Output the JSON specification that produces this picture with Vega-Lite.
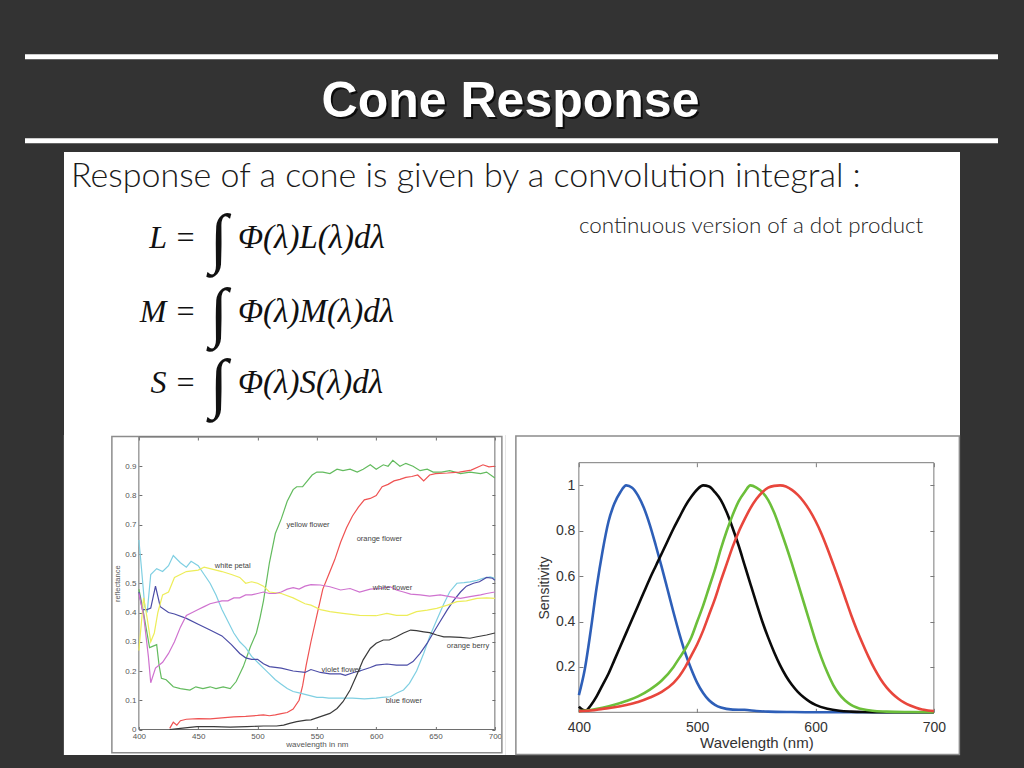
{
"$schema": "https://vega.github.io/schema/vega-lite/v6.json",
"background": "#333333",
"padding": {"left": 0, "top": 0, "right": 0, "bottom": 13},
"config": {"view": {"stroke": null}, "axis": {"grid": false}, "font": "Liberation Sans"},
"data": {"values": [{}]},
"spacing": 0,
"center": true,
"datasets": {
"refl": [
{"s":"yellow flower","wl":400,"v":0.48},{"s":"yellow flower","wl":403,"v":0.42},{"s":"yellow flower","wl":406,"v":0.35},{"s":"yellow flower","wl":409,"v":0.28},{"s":"yellow flower","wl":412,"v":0.285},{"s":"yellow flower","wl":415,"v":0.29},{"s":"yellow flower","wl":417,"v":0.22},{"s":"yellow flower","wl":419,"v":0.175},{"s":"yellow flower","wl":423,"v":0.17},{"s":"yellow flower","wl":429,"v":0.146},{"s":"yellow flower","wl":435,"v":0.14},{"s":"yellow flower","wl":443,"v":0.135},{"s":"yellow flower","wl":448,"v":0.146},{"s":"yellow flower","wl":454,"v":0.14},{"s":"yellow flower","wl":460,"v":0.146},{"s":"yellow flower","wl":465,"v":0.14},{"s":"yellow flower","wl":471,"v":0.146},{"s":"yellow flower","wl":477,"v":0.14},{"s":"yellow flower","wl":482,"v":0.164},{"s":"yellow flower","wl":488,"v":0.215},{"s":"yellow flower","wl":494,"v":0.283},{"s":"yellow flower","wl":499,"v":0.33},{"s":"yellow flower","wl":502,"v":0.38},{"s":"yellow flower","wl":505,"v":0.44},{"s":"yellow flower","wl":510,"v":0.57},{"s":"yellow flower","wl":515,"v":0.67},{"s":"yellow flower","wl":520,"v":0.72},{"s":"yellow flower","wl":525,"v":0.78},{"s":"yellow flower","wl":530,"v":0.82},{"s":"yellow flower","wl":533,"v":0.83},{"s":"yellow flower","wl":538,"v":0.83},{"s":"yellow flower","wl":542,"v":0.85},{"s":"yellow flower","wl":546,"v":0.87},{"s":"yellow flower","wl":550,"v":0.88},{"s":"yellow flower","wl":555,"v":0.88},{"s":"yellow flower","wl":561,"v":0.875},{"s":"yellow flower","wl":567,"v":0.89},{"s":"yellow flower","wl":572,"v":0.885},{"s":"yellow flower","wl":578,"v":0.89},{"s":"yellow flower","wl":584,"v":0.88},{"s":"yellow flower","wl":589,"v":0.89},{"s":"yellow flower","wl":595,"v":0.905},{"s":"yellow flower","wl":600,"v":0.89},{"s":"yellow flower","wl":606,"v":0.905},{"s":"yellow flower","wl":610,"v":0.9},{"s":"yellow flower","wl":614,"v":0.92},{"s":"yellow flower","wl":620,"v":0.9},{"s":"yellow flower","wl":625,"v":0.91},{"s":"yellow flower","wl":631,"v":0.9},{"s":"yellow flower","wl":637,"v":0.885},{"s":"yellow flower","wl":643,"v":0.89},{"s":"yellow flower","wl":648,"v":0.88},{"s":"yellow flower","wl":655,"v":0.88},{"s":"yellow flower","wl":662,"v":0.885},{"s":"yellow flower","wl":671,"v":0.875},{"s":"yellow flower","wl":679,"v":0.88},{"s":"yellow flower","wl":688,"v":0.875},{"s":"yellow flower","wl":693,"v":0.88},{"s":"yellow flower","wl":700,"v":0.86},
{"s":"orange flower","wl":426,"v":0.004},{"s":"orange flower","wl":429,"v":0.025},{"s":"orange flower","wl":432,"v":0.015},{"s":"orange flower","wl":435,"v":0.03},{"s":"orange flower","wl":440,"v":0.035},{"s":"orange flower","wl":450,"v":0.037},{"s":"orange flower","wl":460,"v":0.036},{"s":"orange flower","wl":470,"v":0.04},{"s":"orange flower","wl":480,"v":0.043},{"s":"orange flower","wl":490,"v":0.045},{"s":"orange flower","wl":500,"v":0.048},{"s":"orange flower","wl":505,"v":0.05},{"s":"orange flower","wl":510,"v":0.047},{"s":"orange flower","wl":515,"v":0.05},{"s":"orange flower","wl":520,"v":0.054},{"s":"orange flower","wl":525,"v":0.058},{"s":"orange flower","wl":530,"v":0.07},{"s":"orange flower","wl":535,"v":0.1},{"s":"orange flower","wl":538,"v":0.15},{"s":"orange flower","wl":541,"v":0.22},{"s":"orange flower","wl":545,"v":0.3},{"s":"orange flower","wl":550,"v":0.39},{"s":"orange flower","wl":555,"v":0.48},{"s":"orange flower","wl":560,"v":0.53},{"s":"orange flower","wl":565,"v":0.58},{"s":"orange flower","wl":570,"v":0.64},{"s":"orange flower","wl":575,"v":0.69},{"s":"orange flower","wl":580,"v":0.73},{"s":"orange flower","wl":585,"v":0.76},{"s":"orange flower","wl":590,"v":0.785},{"s":"orange flower","wl":595,"v":0.79},{"s":"orange flower","wl":600,"v":0.8},{"s":"orange flower","wl":605,"v":0.83},{"s":"orange flower","wl":610,"v":0.838},{"s":"orange flower","wl":615,"v":0.85},{"s":"orange flower","wl":620,"v":0.855},{"s":"orange flower","wl":625,"v":0.862},{"s":"orange flower","wl":630,"v":0.865},{"s":"orange flower","wl":635,"v":0.87},{"s":"orange flower","wl":640,"v":0.85},{"s":"orange flower","wl":645,"v":0.87},{"s":"orange flower","wl":650,"v":0.875},{"s":"orange flower","wl":660,"v":0.877},{"s":"orange flower","wl":670,"v":0.88},{"s":"orange flower","wl":680,"v":0.887},{"s":"orange flower","wl":690,"v":0.905},{"s":"orange flower","wl":695,"v":0.898},{"s":"orange flower","wl":700,"v":0.9},
{"s":"blue flower","wl":400,"v":0.648},{"s":"blue flower","wl":402,"v":0.56},{"s":"blue flower","wl":405,"v":0.42},{"s":"blue flower","wl":407,"v":0.4},{"s":"blue flower","wl":410,"v":0.53},{"s":"blue flower","wl":415,"v":0.55},{"s":"blue flower","wl":420,"v":0.54},{"s":"blue flower","wl":425,"v":0.56},{"s":"blue flower","wl":429,"v":0.595},{"s":"blue flower","wl":435,"v":0.57},{"s":"blue flower","wl":440,"v":0.555},{"s":"blue flower","wl":444,"v":0.575},{"s":"blue flower","wl":450,"v":0.56},{"s":"blue flower","wl":455,"v":0.53},{"s":"blue flower","wl":460,"v":0.5},{"s":"blue flower","wl":465,"v":0.46},{"s":"blue flower","wl":470,"v":0.41},{"s":"blue flower","wl":475,"v":0.37},{"s":"blue flower","wl":480,"v":0.33},{"s":"blue flower","wl":485,"v":0.3},{"s":"blue flower","wl":490,"v":0.28},{"s":"blue flower","wl":495,"v":0.25},{"s":"blue flower","wl":500,"v":0.23},{"s":"blue flower","wl":505,"v":0.21},{"s":"blue flower","wl":510,"v":0.19},{"s":"blue flower","wl":515,"v":0.17},{"s":"blue flower","wl":520,"v":0.155},{"s":"blue flower","wl":525,"v":0.14},{"s":"blue flower","wl":530,"v":0.13},{"s":"blue flower","wl":535,"v":0.125},{"s":"blue flower","wl":540,"v":0.12},{"s":"blue flower","wl":545,"v":0.115},{"s":"blue flower","wl":550,"v":0.11},{"s":"blue flower","wl":555,"v":0.11},{"s":"blue flower","wl":560,"v":0.107},{"s":"blue flower","wl":567,"v":0.107},{"s":"blue flower","wl":580,"v":0.107},{"s":"blue flower","wl":590,"v":0.105},{"s":"blue flower","wl":600,"v":0.107},{"s":"blue flower","wl":605,"v":0.11},{"s":"blue flower","wl":612,"v":0.112},{"s":"blue flower","wl":617,"v":0.124},{"s":"blue flower","wl":623,"v":0.135},{"s":"blue flower","wl":628,"v":0.158},{"s":"blue flower","wl":634,"v":0.2},{"s":"blue flower","wl":640,"v":0.26},{"s":"blue flower","wl":645,"v":0.317},{"s":"blue flower","wl":651,"v":0.374},{"s":"blue flower","wl":657,"v":0.43},{"s":"blue flower","wl":662,"v":0.471},{"s":"blue flower","wl":668,"v":0.5},{"s":"blue flower","wl":674,"v":0.502},{"s":"blue flower","wl":679,"v":0.505},{"s":"blue flower","wl":685,"v":0.51},{"s":"blue flower","wl":690,"v":0.517},{"s":"blue flower","wl":696,"v":0.522},{"s":"blue flower","wl":700,"v":0.517},
{"s":"violet flower","wl":400,"v":0.47},{"s":"violet flower","wl":403,"v":0.41},{"s":"violet flower","wl":407,"v":0.41},{"s":"violet flower","wl":410,"v":0.415},{"s":"violet flower","wl":414,"v":0.49},{"s":"violet flower","wl":418,"v":0.42},{"s":"violet flower","wl":425,"v":0.4},{"s":"violet flower","wl":430,"v":0.395},{"s":"violet flower","wl":440,"v":0.38},{"s":"violet flower","wl":450,"v":0.36},{"s":"violet flower","wl":460,"v":0.34},{"s":"violet flower","wl":470,"v":0.32},{"s":"violet flower","wl":478,"v":0.29},{"s":"violet flower","wl":485,"v":0.26},{"s":"violet flower","wl":490,"v":0.245},{"s":"violet flower","wl":495,"v":0.24},{"s":"violet flower","wl":500,"v":0.24},{"s":"violet flower","wl":505,"v":0.225},{"s":"violet flower","wl":510,"v":0.215},{"s":"violet flower","wl":520,"v":0.21},{"s":"violet flower","wl":530,"v":0.2},{"s":"violet flower","wl":540,"v":0.195},{"s":"violet flower","wl":545,"v":0.205},{"s":"violet flower","wl":553,"v":0.195},{"s":"violet flower","wl":561,"v":0.19},{"s":"violet flower","wl":570,"v":0.19},{"s":"violet flower","wl":574,"v":0.185},{"s":"violet flower","wl":581,"v":0.195},{"s":"violet flower","wl":586,"v":0.2},{"s":"violet flower","wl":595,"v":0.212},{"s":"violet flower","wl":600,"v":0.22},{"s":"violet flower","wl":609,"v":0.224},{"s":"violet flower","wl":617,"v":0.22},{"s":"violet flower","wl":626,"v":0.22},{"s":"violet flower","wl":631,"v":0.232},{"s":"violet flower","wl":637,"v":0.26},{"s":"violet flower","wl":643,"v":0.295},{"s":"violet flower","wl":648,"v":0.33},{"s":"violet flower","wl":654,"v":0.37},{"s":"violet flower","wl":660,"v":0.41},{"s":"violet flower","wl":665,"v":0.44},{"s":"violet flower","wl":671,"v":0.47},{"s":"violet flower","wl":676,"v":0.49},{"s":"violet flower","wl":682,"v":0.5},{"s":"violet flower","wl":687,"v":0.505},{"s":"violet flower","wl":693,"v":0.52},{"s":"violet flower","wl":698,"v":0.517},{"s":"violet flower","wl":700,"v":0.51},
{"s":"white petal","wl":400,"v":0.27},{"s":"white petal","wl":402,"v":0.36},{"s":"white petal","wl":404,"v":0.45},{"s":"white petal","wl":407,"v":0.38},{"s":"white petal","wl":410,"v":0.3},{"s":"white petal","wl":413,"v":0.33},{"s":"white petal","wl":416,"v":0.4},{"s":"white petal","wl":420,"v":0.46},{"s":"white petal","wl":425,"v":0.47},{"s":"white petal","wl":430,"v":0.52},{"s":"white petal","wl":435,"v":0.53},{"s":"white petal","wl":440,"v":0.54},{"s":"white petal","wl":450,"v":0.545},{"s":"white petal","wl":455,"v":0.555},{"s":"white petal","wl":460,"v":0.55},{"s":"white petal","wl":465,"v":0.545},{"s":"white petal","wl":470,"v":0.54},{"s":"white petal","wl":478,"v":0.53},{"s":"white petal","wl":485,"v":0.52},{"s":"white petal","wl":490,"v":0.5},{"s":"white petal","wl":495,"v":0.505},{"s":"white petal","wl":500,"v":0.5},{"s":"white petal","wl":505,"v":0.49},{"s":"white petal","wl":510,"v":0.47},{"s":"white petal","wl":520,"v":0.465},{"s":"white petal","wl":530,"v":0.45},{"s":"white petal","wl":540,"v":0.43},{"s":"white petal","wl":545,"v":0.425},{"s":"white petal","wl":553,"v":0.41},{"s":"white petal","wl":561,"v":0.403},{"s":"white petal","wl":572,"v":0.397},{"s":"white petal","wl":586,"v":0.39},{"s":"white petal","wl":600,"v":0.389},{"s":"white petal","wl":609,"v":0.397},{"s":"white petal","wl":617,"v":0.39},{"s":"white petal","wl":626,"v":0.39},{"s":"white petal","wl":634,"v":0.403},{"s":"white petal","wl":643,"v":0.408},{"s":"white petal","wl":651,"v":0.414},{"s":"white petal","wl":660,"v":0.425},{"s":"white petal","wl":668,"v":0.437},{"s":"white petal","wl":676,"v":0.44},{"s":"white petal","wl":685,"v":0.448},{"s":"white petal","wl":693,"v":0.45},{"s":"white petal","wl":700,"v":0.448},
{"s":"white flower","wl":400,"v":0.465},{"s":"white flower","wl":404,"v":0.39},{"s":"white flower","wl":408,"v":0.25},{"s":"white flower","wl":410,"v":0.16},{"s":"white flower","wl":414,"v":0.21},{"s":"white flower","wl":420,"v":0.23},{"s":"white flower","wl":425,"v":0.26},{"s":"white flower","wl":430,"v":0.3},{"s":"white flower","wl":435,"v":0.35},{"s":"white flower","wl":440,"v":0.39},{"s":"white flower","wl":445,"v":0.4},{"s":"white flower","wl":450,"v":0.41},{"s":"white flower","wl":455,"v":0.42},{"s":"white flower","wl":460,"v":0.43},{"s":"white flower","wl":470,"v":0.44},{"s":"white flower","wl":475,"v":0.44},{"s":"white flower","wl":480,"v":0.45},{"s":"white flower","wl":485,"v":0.45},{"s":"white flower","wl":490,"v":0.46},{"s":"white flower","wl":495,"v":0.46},{"s":"white flower","wl":500,"v":0.465},{"s":"white flower","wl":505,"v":0.47},{"s":"white flower","wl":510,"v":0.465},{"s":"white flower","wl":515,"v":0.465},{"s":"white flower","wl":520,"v":0.47},{"s":"white flower","wl":525,"v":0.48},{"s":"white flower","wl":530,"v":0.485},{"s":"white flower","wl":535,"v":0.48},{"s":"white flower","wl":540,"v":0.49},{"s":"white flower","wl":545,"v":0.495},{"s":"white flower","wl":553,"v":0.494},{"s":"white flower","wl":561,"v":0.488},{"s":"white flower","wl":570,"v":0.477},{"s":"white flower","wl":578,"v":0.482},{"s":"white flower","wl":586,"v":0.47},{"s":"white flower","wl":595,"v":0.48},{"s":"white flower","wl":603,"v":0.482},{"s":"white flower","wl":612,"v":0.488},{"s":"white flower","wl":617,"v":0.477},{"s":"white flower","wl":623,"v":0.47},{"s":"white flower","wl":629,"v":0.463},{"s":"white flower","wl":637,"v":0.46},{"s":"white flower","wl":645,"v":0.456},{"s":"white flower","wl":654,"v":0.46},{"s":"white flower","wl":662,"v":0.454},{"s":"white flower","wl":671,"v":0.448},{"s":"white flower","wl":679,"v":0.454},{"s":"white flower","wl":688,"v":0.46},{"s":"white flower","wl":693,"v":0.465},{"s":"white flower","wl":700,"v":0.47},
{"s":"orange berry","wl":426,"v":0},{"s":"orange berry","wl":435,"v":0.004},{"s":"orange berry","wl":449,"v":0.01},{"s":"orange berry","wl":463,"v":0.01},{"s":"orange berry","wl":477,"v":0.008},{"s":"orange berry","wl":491,"v":0.01},{"s":"orange berry","wl":505,"v":0.012},{"s":"orange berry","wl":516,"v":0.012},{"s":"orange berry","wl":522,"v":0.015},{"s":"orange berry","wl":527,"v":0.021},{"s":"orange berry","wl":533,"v":0.027},{"s":"orange berry","wl":541,"v":0.032},{"s":"orange berry","wl":545,"v":0.033},{"s":"orange berry","wl":553,"v":0.044},{"s":"orange berry","wl":561,"v":0.055},{"s":"orange berry","wl":567,"v":0.072},{"s":"orange berry","wl":572,"v":0.095},{"s":"orange berry","wl":578,"v":0.135},{"s":"orange berry","wl":584,"v":0.19},{"s":"orange berry","wl":589,"v":0.238},{"s":"orange berry","wl":595,"v":0.277},{"s":"orange berry","wl":600,"v":0.295},{"s":"orange berry","wl":606,"v":0.306},{"s":"orange berry","wl":611,"v":0.306},{"s":"orange berry","wl":617,"v":0.317},{"s":"orange berry","wl":623,"v":0.33},{"s":"orange berry","wl":629,"v":0.34},{"s":"orange berry","wl":634,"v":0.338},{"s":"orange berry","wl":640,"v":0.334},{"s":"orange berry","wl":645,"v":0.331},{"s":"orange berry","wl":651,"v":0.323},{"s":"orange berry","wl":657,"v":0.317},{"s":"orange berry","wl":662,"v":0.317},{"s":"orange berry","wl":671,"v":0.315},{"s":"orange berry","wl":679,"v":0.312},{"s":"orange berry","wl":685,"v":0.317},{"s":"orange berry","wl":693,"v":0.323},{"s":"orange berry","wl":700,"v":0.33}
],
"reflLabels": [
{"label":"white petal","wl":464,"v":0.56},
{"label":"yellow flower","wl":524.5,"v":0.7},
{"label":"orange flower","wl":583.5,"v":0.65},
{"label":"white flower","wl":597,"v":0.485},
{"label":"orange berry","wl":659.5,"v":0.285},
{"label":"violet flower","wl":554,"v":0.205},
{"label":"blue flower","wl":608,"v":0.096}
],
"cones": [
{"c":"S","wl":400,"v":0.076},{"c":"S","wl":405,"v":0.19},{"c":"S","wl":410,"v":0.36},{"c":"S","wl":415,"v":0.55},{"c":"S","wl":420,"v":0.71},{"c":"S","wl":425,"v":0.84},{"c":"S","wl":430,"v":0.92},{"c":"S","wl":435,"v":0.97},{"c":"S","wl":440,"v":1.0},{"c":"S","wl":445,"v":0.99},{"c":"S","wl":450,"v":0.955},{"c":"S","wl":455,"v":0.9},{"c":"S","wl":460,"v":0.825},{"c":"S","wl":465,"v":0.735},{"c":"S","wl":470,"v":0.64},{"c":"S","wl":475,"v":0.54},{"c":"S","wl":480,"v":0.44},{"c":"S","wl":485,"v":0.345},{"c":"S","wl":490,"v":0.26},{"c":"S","wl":495,"v":0.19},{"c":"S","wl":500,"v":0.13},{"c":"S","wl":505,"v":0.085},{"c":"S","wl":510,"v":0.053},{"c":"S","wl":515,"v":0.033},{"c":"S","wl":520,"v":0.021},{"c":"S","wl":530,"v":0.012},{"c":"S","wl":540,"v":0.011},{"c":"S","wl":550,"v":0.006},{"c":"S","wl":560,"v":0.003},{"c":"S","wl":580,"v":0.001},{"c":"S","wl":600,"v":0},{"c":"S","wl":650,"v":0},{"c":"S","wl":700,"v":0},
{"c":"Rod","wl":400,"v":0.025},{"c":"Rod","wl":403,"v":0.012},{"c":"Rod","wl":406,"v":0.008},{"c":"Rod","wl":410,"v":0.03},{"c":"Rod","wl":415,"v":0.07},{"c":"Rod","wl":420,"v":0.12},{"c":"Rod","wl":425,"v":0.17},{"c":"Rod","wl":430,"v":0.23},{"c":"Rod","wl":435,"v":0.29},{"c":"Rod","wl":440,"v":0.35},{"c":"Rod","wl":445,"v":0.41},{"c":"Rod","wl":450,"v":0.47},{"c":"Rod","wl":455,"v":0.53},{"c":"Rod","wl":460,"v":0.59},{"c":"Rod","wl":465,"v":0.645},{"c":"Rod","wl":470,"v":0.7},{"c":"Rod","wl":475,"v":0.755},{"c":"Rod","wl":480,"v":0.81},{"c":"Rod","wl":485,"v":0.86},{"c":"Rod","wl":490,"v":0.91},{"c":"Rod","wl":495,"v":0.95},{"c":"Rod","wl":500,"v":0.982},{"c":"Rod","wl":505,"v":1.0},{"c":"Rod","wl":510,"v":0.995},{"c":"Rod","wl":515,"v":0.97},{"c":"Rod","wl":520,"v":0.935},{"c":"Rod","wl":525,"v":0.88},{"c":"Rod","wl":530,"v":0.811},{"c":"Rod","wl":535,"v":0.735},{"c":"Rod","wl":540,"v":0.65},{"c":"Rod","wl":545,"v":0.565},{"c":"Rod","wl":550,"v":0.481},{"c":"Rod","wl":555,"v":0.4},{"c":"Rod","wl":560,"v":0.329},{"c":"Rod","wl":565,"v":0.265},{"c":"Rod","wl":570,"v":0.208},{"c":"Rod","wl":575,"v":0.16},{"c":"Rod","wl":580,"v":0.121},{"c":"Rod","wl":585,"v":0.09},{"c":"Rod","wl":590,"v":0.066},{"c":"Rod","wl":595,"v":0.047},{"c":"Rod","wl":600,"v":0.033},{"c":"Rod","wl":610,"v":0.016},{"c":"Rod","wl":620,"v":0.007},{"c":"Rod","wl":630,"v":0.003},{"c":"Rod","wl":640,"v":0.001},{"c":"Rod","wl":660,"v":0},{"c":"Rod","wl":700,"v":0},
{"c":"M","wl":400,"v":0.005},{"c":"M","wl":410,"v":0.01},{"c":"M","wl":420,"v":0.02},{"c":"M","wl":430,"v":0.033},{"c":"M","wl":440,"v":0.05},{"c":"M","wl":450,"v":0.07},{"c":"M","wl":460,"v":0.1},{"c":"M","wl":470,"v":0.14},{"c":"M","wl":480,"v":0.2},{"c":"M","wl":485,"v":0.24},{"c":"M","wl":490,"v":0.28},{"c":"M","wl":495,"v":0.33},{"c":"M","wl":500,"v":0.4},{"c":"M","wl":505,"v":0.47},{"c":"M","wl":510,"v":0.55},{"c":"M","wl":515,"v":0.63},{"c":"M","wl":520,"v":0.72},{"c":"M","wl":525,"v":0.8},{"c":"M","wl":530,"v":0.87},{"c":"M","wl":535,"v":0.93},{"c":"M","wl":540,"v":0.97},{"c":"M","wl":545,"v":1.0},{"c":"M","wl":550,"v":0.99},{"c":"M","wl":555,"v":0.97},{"c":"M","wl":560,"v":0.935},{"c":"M","wl":565,"v":0.88},{"c":"M","wl":570,"v":0.81},{"c":"M","wl":575,"v":0.735},{"c":"M","wl":580,"v":0.655},{"c":"M","wl":585,"v":0.57},{"c":"M","wl":590,"v":0.485},{"c":"M","wl":595,"v":0.4},{"c":"M","wl":600,"v":0.315},{"c":"M","wl":605,"v":0.24},{"c":"M","wl":610,"v":0.175},{"c":"M","wl":615,"v":0.12},{"c":"M","wl":620,"v":0.08},{"c":"M","wl":625,"v":0.052},{"c":"M","wl":630,"v":0.033},{"c":"M","wl":640,"v":0.013},{"c":"M","wl":650,"v":0.006},{"c":"M","wl":660,"v":0.003},{"c":"M","wl":680,"v":0.001},{"c":"M","wl":700,"v":0},
{"c":"L","wl":400,"v":0.005},{"c":"L","wl":410,"v":0.008},{"c":"L","wl":420,"v":0.015},{"c":"L","wl":430,"v":0.022},{"c":"L","wl":440,"v":0.032},{"c":"L","wl":450,"v":0.045},{"c":"L","wl":460,"v":0.065},{"c":"L","wl":470,"v":0.09},{"c":"L","wl":480,"v":0.13},{"c":"L","wl":485,"v":0.16},{"c":"L","wl":490,"v":0.2},{"c":"L","wl":495,"v":0.25},{"c":"L","wl":500,"v":0.3},{"c":"L","wl":505,"v":0.36},{"c":"L","wl":510,"v":0.43},{"c":"L","wl":515,"v":0.5},{"c":"L","wl":520,"v":0.58},{"c":"L","wl":525,"v":0.655},{"c":"L","wl":530,"v":0.73},{"c":"L","wl":535,"v":0.795},{"c":"L","wl":540,"v":0.85},{"c":"L","wl":545,"v":0.9},{"c":"L","wl":550,"v":0.94},{"c":"L","wl":555,"v":0.97},{"c":"L","wl":560,"v":0.99},{"c":"L","wl":565,"v":0.998},{"c":"L","wl":570,"v":1.0},{"c":"L","wl":575,"v":0.995},{"c":"L","wl":580,"v":0.98},{"c":"L","wl":585,"v":0.958},{"c":"L","wl":590,"v":0.928},{"c":"L","wl":595,"v":0.89},{"c":"L","wl":600,"v":0.843},{"c":"L","wl":605,"v":0.787},{"c":"L","wl":610,"v":0.722},{"c":"L","wl":615,"v":0.652},{"c":"L","wl":620,"v":0.58},{"c":"L","wl":625,"v":0.505},{"c":"L","wl":630,"v":0.43},{"c":"L","wl":635,"v":0.362},{"c":"L","wl":640,"v":0.3},{"c":"L","wl":645,"v":0.242},{"c":"L","wl":650,"v":0.19},{"c":"L","wl":655,"v":0.146},{"c":"L","wl":660,"v":0.11},{"c":"L","wl":665,"v":0.082},{"c":"L","wl":670,"v":0.06},{"c":"L","wl":675,"v":0.043},{"c":"L","wl":680,"v":0.03},{"c":"L","wl":685,"v":0.02},{"c":"L","wl":690,"v":0.012},{"c":"L","wl":695,"v":0.008},{"c":"L","wl":700,"v":0.005}
]
},
"resolve": {"scale": {"color": "independent"}},
"vconcat": [
{
"width": 1024, "height": 435,
"layer": [
{"mark": {"type": "rule", "color": "white", "strokeWidth": 5},
 "encoding": {"x": {"datum": 25, "type": "quantitative", "scale": {"domain": [0, 1024], "nice": false, "zero": false}, "axis": null}, "x2": {"datum": 998}, "y": {"datum": 56.7, "type": "quantitative", "scale": {"domain": [0, 435], "nice": false, "zero": false, "reverse": true}, "axis": null}}},
{"mark": {"type": "rule", "color": "white", "strokeWidth": 5},
 "encoding": {"x": {"datum": 25, "type": "quantitative", "axis": null}, "x2": {"datum": 998}, "y": {"datum": 140.8, "type": "quantitative", "axis": null}}},
{"mark": {"type": "text", "text": "Cone Response", "font": "Liberation Sans", "fontWeight": "bold", "fontSize": 50, "color": "#000000", "opacity": 0.75, "align": "center", "baseline": "alphabetic"},
 "encoding": {"x": {"datum": 512.5, "type": "quantitative", "axis": null}, "y": {"datum": 119, "type": "quantitative", "axis": null}}},
{"mark": {"type": "text", "text": "Cone Response", "font": "Liberation Sans", "fontWeight": "bold", "fontSize": 50, "color": "#ffffff", "align": "center", "baseline": "alphabetic"},
 "encoding": {"x": {"datum": 510.5, "type": "quantitative", "axis": null}, "y": {"datum": 116.5, "type": "quantitative", "axis": null}}},
{"mark": {"type": "rect", "color": "white"},
 "encoding": {"x": {"datum": 64, "type": "quantitative", "axis": null}, "x2": {"datum": 960}, "y": {"datum": 152, "type": "quantitative", "axis": null}, "y2": {"datum": 435}}},
{"mark": {"type": "text", "text": "Response of a cone is given by a convolution integral :", "font": "Lato", "fontWeight": 300, "fontSize": 34, "color": "#1a1a1a", "align": "left", "baseline": "alphabetic"},
 "encoding": {"x": {"datum": 71, "type": "quantitative", "axis": null}, "y": {"datum": 187, "type": "quantitative", "axis": null}}},
{"mark": {"type": "text", "text": "continuous version of a dot product", "font": "Lato", "fontWeight": 300, "fontSize": 22.4, "color": "#222222", "align": "left", "baseline": "alphabetic"},
 "encoding": {"x": {"datum": 579, "type": "quantitative", "axis": null}, "y": {"datum": 233, "type": "quantitative", "axis": null}}},
{"mark": {"type": "text", "text": "L =", "font": "Liberation Serif", "fontStyle": "italic", "fontSize": 32, "color": "#111111", "align": "right", "baseline": "alphabetic"},
 "encoding": {"x": {"datum": 196, "type": "quantitative", "axis": null}, "y": {"datum": 248, "type": "quantitative", "axis": null}}},
{"mark": {"type": "text", "text": "M =", "font": "Liberation Serif", "fontStyle": "italic", "fontSize": 32, "color": "#111111", "align": "right", "baseline": "alphabetic"},
 "encoding": {"x": {"datum": 196, "type": "quantitative", "axis": null}, "y": {"datum": 321.7, "type": "quantitative", "axis": null}}},
{"mark": {"type": "text", "text": "S =", "font": "Liberation Serif", "fontStyle": "italic", "fontSize": 32, "color": "#111111", "align": "right", "baseline": "alphabetic"},
 "encoding": {"x": {"datum": 196, "type": "quantitative", "axis": null}, "y": {"datum": 393, "type": "quantitative", "axis": null}}},
{"mark": {"type": "text", "text": "∫", "font": "Liberation Serif", "fontSize": 66, "color": "#111111", "align": "center", "baseline": "middle"},
 "encoding": {"x": {"datum": 219, "type": "quantitative", "axis": null}, "y": {"datum": 240, "type": "quantitative", "axis": null}}},
{"mark": {"type": "text", "text": "∫", "font": "Liberation Serif", "fontSize": 66, "color": "#111111", "align": "center", "baseline": "middle"},
 "encoding": {"x": {"datum": 219, "type": "quantitative", "axis": null}, "y": {"datum": 313.5, "type": "quantitative", "axis": null}}},
{"mark": {"type": "text", "text": "∫", "font": "Liberation Serif", "fontSize": 66, "color": "#111111", "align": "center", "baseline": "middle"},
 "encoding": {"x": {"datum": 219, "type": "quantitative", "axis": null}, "y": {"datum": 385, "type": "quantitative", "axis": null}}},
{"mark": {"type": "text", "text": "Φ(λ)L(λ)dλ", "font": "Liberation Serif", "fontStyle": "italic", "fontSize": 33, "color": "#111111", "align": "left", "baseline": "alphabetic"},
 "encoding": {"x": {"datum": 238, "type": "quantitative", "axis": null}, "y": {"datum": 248, "type": "quantitative", "axis": null}}},
{"mark": {"type": "text", "text": "Φ(λ)M(λ)dλ", "font": "Liberation Serif", "fontStyle": "italic", "fontSize": 33, "color": "#111111", "align": "left", "baseline": "alphabetic"},
 "encoding": {"x": {"datum": 238, "type": "quantitative", "axis": null}, "y": {"datum": 321.7, "type": "quantitative", "axis": null}}},
{"mark": {"type": "text", "text": "Φ(λ)S(λ)dλ", "font": "Liberation Serif", "fontStyle": "italic", "fontSize": 33, "color": "#111111", "align": "left", "baseline": "alphabetic"},
 "encoding": {"x": {"datum": 238, "type": "quantitative", "axis": null}, "y": {"datum": 393, "type": "quantitative", "axis": null}}}
]
},
{
"spacing": 0,
"resolve": {"scale": {"color": "independent"}},
"hconcat": [
{
"width": 442, "height": 320,
"view": {"fill": "white", "stroke": null},
"layer": [
{"mark": {"type": "rect", "filled": false, "color": "#8c8c8c", "strokeWidth": 1.5},
 "encoding": {"x": {"datum": 377.25, "type": "quantitative", "scale": {"domain": [400, 700], "range": [75, 431], "nice": false, "zero": false}, "axis": null}, "x2": {"datum": 705.9}, "y": {"datum": 1.0017, "type": "quantitative", "scale": {"domain": [0, 1], "range": [294.5, 2], "nice": false, "zero": false}, "axis": null}, "y2": {"datum": -0.0793}}},
{"mark": {"type": "rect", "filled": false, "color": "#6e6e6e", "strokeWidth": 1},
 "encoding": {"x": {"datum": 400, "type": "quantitative", "axis": {"orient": "top", "offset": -2, "values": [400, 450, 500, 550, 600, 650, 700], "labels": false, "domain": false, "tickSize": -3, "tickColor": "#6e6e6e", "title": null}}, "x2": {"datum": 700}, "y": {"datum": 0, "type": "quantitative", "axis": {"orient": "right", "offset": -11, "values": [0, 0.1, 0.2, 0.3, 0.4, 0.5, 0.6, 0.7, 0.8, 0.9], "labels": false, "domain": false, "tickSize": -3, "tickColor": "#6e6e6e", "title": null}}, "y2": {"datum": 1}}},
{"data": {"name": "refl"},
 "mark": {"type": "line", "strokeWidth": 1.2},
 "encoding": {
  "x": {"field": "wl", "type": "quantitative", "axis": {"orient": "bottom", "offset": -25.5, "values": [400, 450, 500, 550, 600, 650, 700], "domain": false, "tickSize": -3, "tickColor": "#6e6e6e", "labelFontSize": 8, "labelColor": "#555555", "labelPadding": 6, "labelFlush": false, "labelOverlap": false, "labelBound": false, "title": "wavelength in nm", "titleFontSize": 8, "titleFontWeight": "normal", "titleColor": "#555555", "titlePadding": 0}},
  "y": {"field": "v", "type": "quantitative", "axis": {"orient": "left", "offset": -75, "values": [0, 0.1, 0.2, 0.3, 0.4, 0.5, 0.6, 0.7, 0.8, 0.9], "format": "~g", "domain": false, "tickSize": -3, "tickColor": "#6e6e6e", "labelFontSize": 8, "labelColor": "#555555", "labelPadding": 6, "labelFlush": false, "labelOverlap": false, "labelBound": false, "title": "reflectance", "titleFontSize": 7.5, "titleFontWeight": "normal", "titleColor": "#555555", "titlePadding": 3}},
  "color": {"field": "s", "type": "nominal", "scale": {"domain": ["yellow flower", "orange flower", "blue flower", "violet flower", "white petal", "white flower", "orange berry"], "range": ["#63bb5e", "#ef5252", "#7fcfe2", "#4b4ca6", "#eded5a", "#cf72cf", "#3a3a3a"]}, "legend": null},
  "detail": {"field": "s"}
 }},
{"data": {"name": "reflLabels"},
 "mark": {"type": "text", "align": "left", "baseline": "middle", "fontSize": 7.5, "color": "#444444"},
 "encoding": {"x": {"field": "wl", "type": "quantitative", "axis": null}, "y": {"field": "v", "type": "quantitative", "axis": null}, "text": {"field": "label"}}}
],
"resolve": {"axis": {"x": "independent", "y": "independent"}}
},
{
"width": 454, "height": 320,
"view": {"fill": "white", "stroke": null},
"layer": [
{"mark": {"type": "rect", "filled": false, "color": "#8c8c8c", "strokeWidth": 1.5},
 "encoding": {"x": {"datum": 346.76, "type": "quantitative", "scale": {"domain": [400, 700], "range": [73, 428], "nice": false, "zero": false}, "axis": null}, "x2": {"datum": 721.55}, "y": {"datum": 1.2177, "type": "quantitative", "scale": {"domain": [0, 1.1], "range": [277.3, 27.7], "nice": false, "zero": false}, "axis": null}, "y2": {"datum": -0.186}}},
{"mark": {"type": "rect", "filled": false, "color": "#7a7a7a", "strokeWidth": 1},
 "encoding": {"x": {"datum": 400, "type": "quantitative", "axis": {"orient": "top", "offset": -27.7, "values": [400, 500, 600, 700], "labels": false, "domain": false, "tickSize": -4, "tickColor": "#7a7a7a", "title": null}}, "x2": {"datum": 700}, "y": {"datum": 0, "type": "quantitative", "axis": {"orient": "right", "offset": -26, "values": [0.2, 0.4, 0.6, 0.8, 1], "labels": false, "domain": false, "tickSize": -4, "tickColor": "#7a7a7a", "title": null}}, "y2": {"datum": 1.1}}},
{"data": {"name": "cones"},
 "mark": {"type": "line", "strokeWidth": 2.6, "interpolate": "monotone"},
 "encoding": {
  "x": {"field": "wl", "type": "quantitative", "axis": {"orient": "bottom", "offset": -42.7, "values": [400, 500, 600, 700], "domain": false, "tickSize": -4, "tickColor": "#7a7a7a", "labelFontSize": 14, "labelColor": "#333333", "labelPadding": 12, "labelFlush": false, "labelOverlap": false, "labelBound": false, "title": "Wavelength (nm)", "titleFontSize": 15, "titleFontWeight": "normal", "titleColor": "#333333", "titlePadding": 1}},
  "y": {"field": "v", "type": "quantitative", "axis": {"orient": "left", "offset": -73, "values": [0.2, 0.4, 0.6, 0.8, 1], "format": "~g", "domain": false, "tickSize": -4, "tickColor": "#7a7a7a", "labelFontSize": 14, "labelColor": "#333333", "labelPadding": 8, "labelFlush": false, "labelOverlap": false, "labelBound": false, "title": "Sensitivity", "titleFontSize": 14, "titleFontWeight": "normal", "titleColor": "#333333", "titlePadding": 4}},
  "color": {"field": "c", "type": "nominal", "scale": {"domain": ["S", "Rod", "M", "L"], "range": ["#2e5fb8", "#0a0a0a", "#6cbf3a", "#e8463c"]}, "legend": null}
 }}
],
"resolve": {"axis": {"x": "independent", "y": "independent"}}
}
]
}
]
}
